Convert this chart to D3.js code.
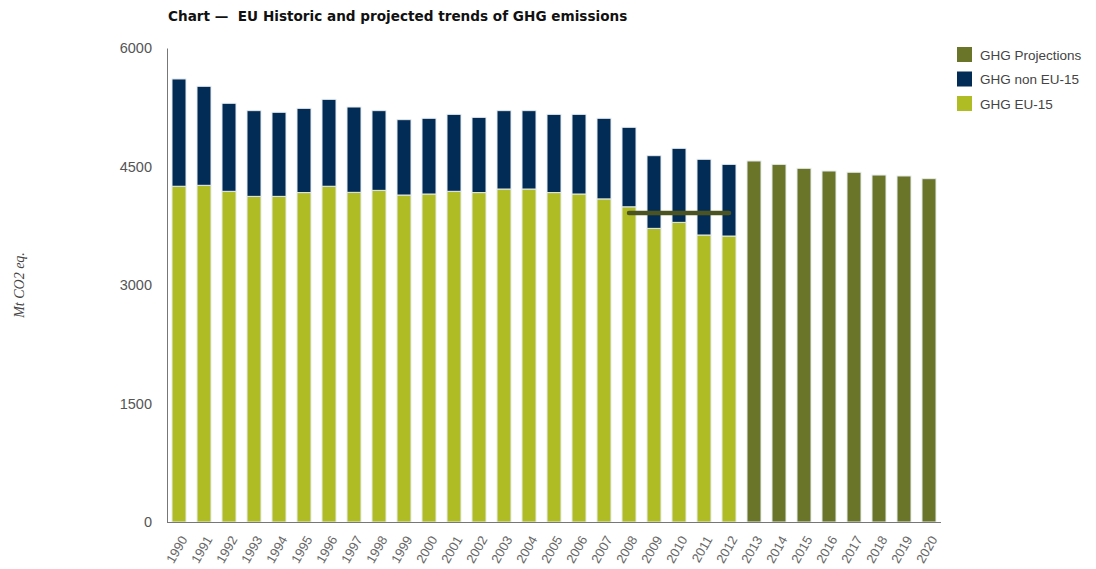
<!DOCTYPE html>
<html>
<head>
<meta charset="utf-8">
<script src="https://cdn.jsdelivr.net/npm/d3@7"></script>
<style>
  html, body { margin: 0; padding: 0; background: #fff; }
  svg { display: block; }
</style>
</head>
<body>
<svg id="chart" width="1096" height="569"></svg>
<script>
// Historic years (stacked EU-15 + non EU-15) and projection years
const historicYears = d3.range(1990, 2013).map(String);
const projectionYears = d3.range(2013, 2021).map(String);
const years = historicYears.concat(projectionYears);

// Mt CO2 eq.
const ghgEU15 = [4250, 4262, 4186, 4122, 4122, 4170, 4250, 4173, 4198, 4139, 4152, 4186,
                 4170, 4215, 4215, 4170, 4152, 4090, 3990, 3717, 3793, 3633, 3620];
const ghgNonEU15 = [1358, 1253, 1114, 1085, 1064, 1066, 1100, 1080, 1009, 954, 958, 974,
                    952, 992, 992, 990, 1008, 1020, 1006, 920, 937, 958, 907];
const ghgProjections = [4570, 4527, 4477, 4443, 4427, 4392, 4380, 4346];

// Kyoto period reference level (2008-2012)
const targetYears = ["2008", "2012"];
const targetValue = 3910;

const yTicks = [0, 1500, 3000, 4500, 6000];

const legendItems = [
  { label: "GHG Projections", color: "#6b7529" },
  { label: "GHG non EU-15", color: "#022c55" },
  { label: "GHG EU-15", color: "#b0bc23" }
];

const svg = d3.select("#chart");
const margin = { left: 167, right: 155, top: 48, bottom: 47 };
const width = 1096, height = 569;

const x = d3.scaleBand()
  .domain(years)
  .range([margin.left, 941])
  .paddingInner(0.44)
  .paddingOuter(0.2);

const y = d3.scaleLinear()
  .domain([0, 6000])
  .range([height - margin.bottom, margin.top]);

// Soft edge for the reference line
const defs = svg.append("defs");
defs.append("filter")
  .attr("id", "soft")
  .attr("filterUnits", "userSpaceOnUse")
  .attr("x", 0).attr("y", 0)
  .attr("width", width).attr("height", height)
  .append("feGaussianBlur")
  .attr("stdDeviation", 0.7);

// Title
svg.append("text")
  .attr("x", 168)
  .attr("y", 21)
  .attr("font-family", "DejaVu Sans")
  .attr("font-weight", "bold")
  .attr("font-size", 13.6)
  .attr("fill", "#111")
  .style("white-space", "pre")
  .text("Chart \u2014  EU Historic and projected trends of GHG emissions");

// Y axis
const yAxis = d3.axisLeft(y).tickValues(yTicks).tickFormat(d3.format("d")).tickSize(0).tickPadding(15);
const gy = svg.append("g")
  .attr("transform", `translate(${margin.left},0)`)
  .call(yAxis);
gy.select(".domain").attr("stroke", "#777");
gy.selectAll("text")
  .attr("font-family", "Liberation Sans, Arial, sans-serif")
  .attr("font-size", 14.5)
  .attr("fill", "#555");

// Y axis title
svg.append("text")
  .attr("transform", `translate(24,285) rotate(-90)`)
  .attr("text-anchor", "middle")
  .attr("font-family", "Liberation Serif, serif")
  .attr("font-style", "italic")
  .attr("font-size", 14)
  .attr("fill", "#444")
  .text("Mt CO2 eq.");

// Bars
const barStroke = "#e6ebee";
const historic = historicYears.map((yr, i) => ({ year: yr, eu: ghgEU15[i], non: ghgNonEU15[i] }));
const stack = d3.stack().keys(["eu", "non"])(historic);
const stackColors = { eu: legendItems[2].color, non: legendItems[1].color };

stack.forEach(layer => {
  svg.append("g")
    .selectAll("rect")
    .data(layer)
    .join("rect")
    .attr("x", d => x(d.data.year))
    .attr("width", x.bandwidth())
    .attr("y", d => y(d[1]))
    .attr("height", d => y(d[0]) - y(d[1]))
    .attr("fill", stackColors[layer.key])
    .attr("stroke", barStroke)
    .attr("stroke-width", 1);
});

svg.append("g")
  .selectAll("rect")
  .data(projectionYears.map((yr, i) => ({ year: yr, v: ghgProjections[i] })))
  .join("rect")
  .attr("x", d => x(d.year))
  .attr("width", x.bandwidth())
  .attr("y", d => y(d.v))
  .attr("height", d => y(0) - y(d.v))
  .attr("fill", legendItems[0].color)
  .attr("stroke", barStroke)
  .attr("stroke-width", 1);

// Reference level line
svg.append("line")
  .attr("x1", x(targetYears[0]) + x.bandwidth() / 2)
  .attr("x2", x(targetYears[1]) + x.bandwidth() / 2)
  .attr("y1", y(targetValue))
  .attr("y2", y(targetValue))
  .attr("stroke", "#4b5321")
  .attr("stroke-width", 4.5)
  .attr("stroke-linecap", "round")
  .attr("filter", "url(#soft)");

// X axis
const xAxis = d3.axisBottom(x).tickSize(0).tickPadding(0);
const gx = svg.append("g")
  .attr("transform", `translate(0,${y(0)})`)
  .call(xAxis);
gx.select(".domain").attr("stroke", "#777").attr("d", `M${margin.left},0.5H941`);
gx.selectAll("text")
  .attr("font-family", "Liberation Sans, Arial, sans-serif")
  .attr("font-size", 13)
  .attr("fill", "#666")
  .attr("text-anchor", "end")
  .attr("dy", "0.35em")
  .attr("transform", "translate(5,15) rotate(-60)");

// Legend
const lg = svg.append("g").attr("transform", "translate(957,47)");
legendItems.forEach((item, i) => {
  const row = lg.append("g").attr("transform", `translate(0,${i * 24.5})`);
  row.append("rect")
    .attr("width", 15).attr("height", 15)
    .attr("fill", item.color);
  row.append("text")
    .attr("x", 23).attr("y", 12.5)
    .attr("font-family", "Liberation Sans, Arial, sans-serif")
    .attr("font-size", 13.5)
    .attr("fill", "#444")
    .text(item.label);
});
</script>
</body>
</html>
